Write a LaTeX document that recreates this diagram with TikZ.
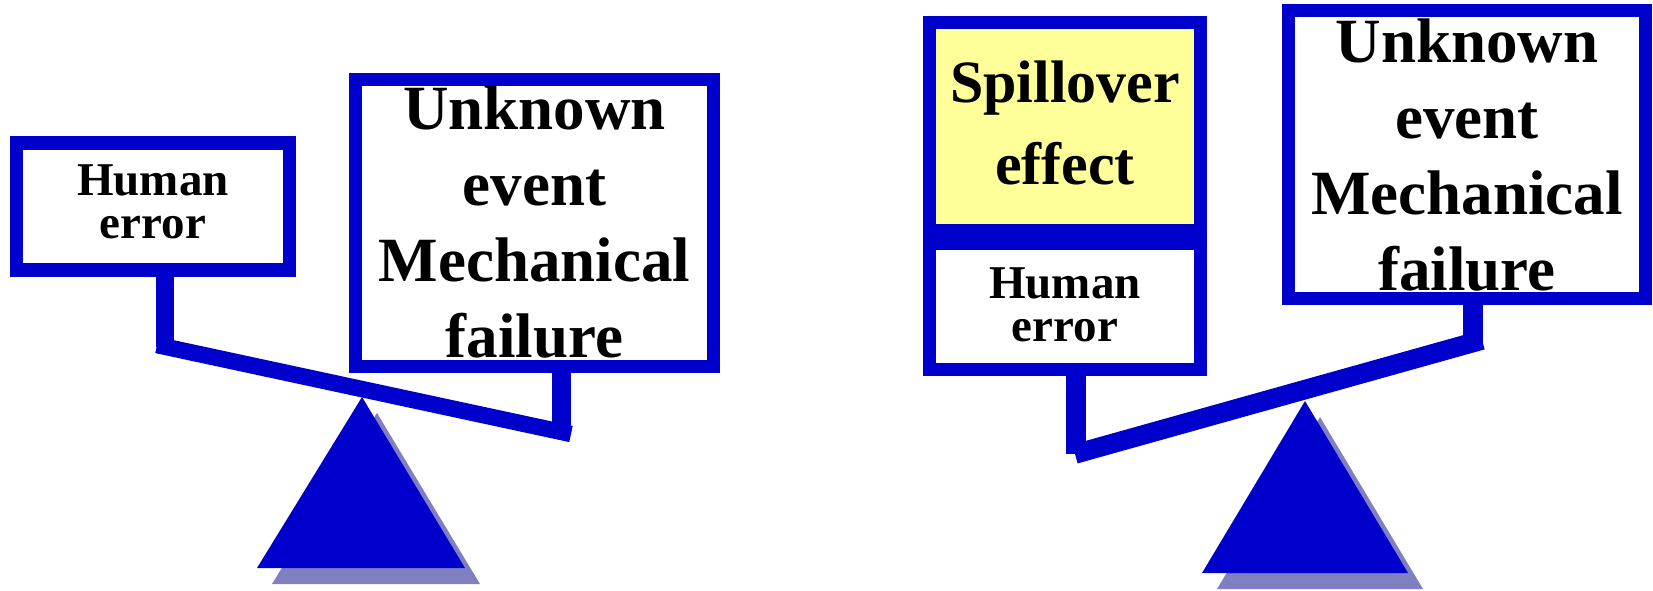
\documentclass[tikz,border=0pt]{standalone}
\usepackage{fontspec}
\setmainfont{Liberation Serif}
\definecolor{sblue}{HTML}{0000CC}
\definecolor{sshadow}{HTML}{8080C0}
\definecolor{syellow}{HTML}{FFFF99}
\newcommand\bigtxt{\fontsize{63}{76}\selectfont\bfseries}
\newcommand\smtxt{\fontsize{47}{43}\selectfont\bfseries}
\newcommand\sptxt{\fontsize{60}{82}\selectfont\bfseries}
\begin{document}
\begin{tikzpicture}[x=1pt,y=-1pt,
  box/.style={draw=sblue, line width=13.5pt, fill=white, inner sep=0pt},
  label/.style={inner sep=0pt, align=center, text=black},
  beam/.style={draw=sblue, line width=#1, line cap=butt},
  stem/.style={draw=sblue, line width=#1, line cap=butt},
  fulcrum/.style={fill=sblue},
  shadow/.style={fill=sshadow}]
\useasboundingbox (0,0) rectangle (1653,590);

% ---------- left scale ----------
\coordinate (la) at (157,345);
\coordinate (lb) at (571,434);
\coordinate (lf1) at (165,346.7);
\coordinate (lf2) at (561.5,432);
\coordinate (lt) at (362,397);
\coordinate (ltl) at (257,568);
\coordinate (ltr) at (465,568);
\fill[shadow] ([shift={(15,16)}]lt) -- ([shift={(15,16)}]ltl) -- ([shift={(15,16)}]ltr) -- cycle;
\fill[fulcrum] (lt) -- (ltl) -- (ltr) -- cycle;

\node[box, minimum width=273pt, minimum height=127pt] (hl) at (153,206.5) {};
\node[box, minimum width=358pt, minimum height=287pt] (ul) at (534.5,223) {};
\draw[stem=18pt] (hl.south -| lf1) -- (lf1);
\draw[stem=19pt] (ul.south -| lf2) -- (lf2);
\draw[beam=16.5pt] (la) -- (lb);
\node[label, font=\smtxt] (hlt) at (153,202) {Human\\error};
\node[label, font=\bigtxt] (ult) at (534.5,222) {Unknown\\event\\Mechanical\\failure};

% ---------- right scale ----------
\coordinate (ra) at (1075,454);
\coordinate (rb) at (1482,340);
\coordinate (rf1) at (1076,453.7);
\coordinate (rf2) at (1473,342.5);
\coordinate (rt) at (1305,401);
\coordinate (rtl) at (1202,573);
\coordinate (rtr) at (1408,573);
\fill[shadow] ([shift={(15,16)}]rt) -- ([shift={(15,16)}]rtl) -- ([shift={(15,16)}]rtr) -- cycle;
\fill[fulcrum] (rt) -- (rtl) -- (rtr) -- cycle;

\node[box, fill=syellow, minimum width=271pt, minimum height=208pt] (sp) at (1065,126.5) {};
\node[box, minimum width=271pt, minimum height=126pt] (hr) at (1065,306.5) {};
\node[box, minimum width=357pt, minimum height=288pt] (ur) at (1467,154.5) {};
\draw[stem=20pt] (hr.south -| rf1) -- (rf1);
\draw[stem=20pt] (ur.south -| rf2) -- (rf2);
\draw[beam=19.5pt] (ra) -- (rb);
\node[label, font=\sptxt] (spt) at (1065,122.5) {Spillover\\effect};
\node[label, font=\smtxt] (hrt) at (1065,305) {Human\\error};
\node[label, font=\bigtxt] (urt) at (1467,155.5) {Unknown\\event\\Mechanical\\failure};
\end{tikzpicture}
\end{document}
